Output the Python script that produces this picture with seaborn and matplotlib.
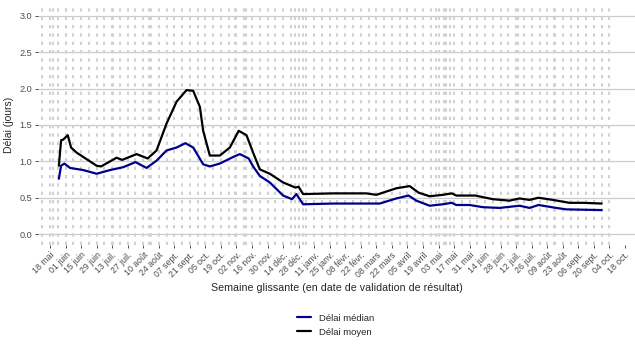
import pandas as pd
import numpy as np
import matplotlib
matplotlib.use("Agg")
import matplotlib.pyplot as plt
import seaborn as sns

# Délai moyen (jours)
moyen_dates = [
    "2020-05-26", "2020-05-28", "2020-05-30", "2020-06-03", "2020-06-06", "2020-06-11",
    "2020-06-20", "2020-06-29", "2020-07-03", "2020-07-17", "2020-07-22", "2020-08-04",
    "2020-08-14", "2020-08-22", "2020-08-31", "2020-09-09", "2020-09-18", "2020-09-24",
    "2020-09-30", "2020-10-03", "2020-10-09", "2020-10-18", "2020-10-27", "2020-11-04",
    "2020-11-11", "2020-11-17", "2020-11-23", "2020-12-02", "2020-12-14", "2020-12-25",
    "2020-12-28", "2021-01-01", "2021-01-28", "2021-02-27", "2021-03-08", "2021-03-26",
    "2021-04-07", "2021-04-15", "2021-04-25", "2021-05-07", "2021-05-15", "2021-05-19",
    "2021-06-05", "2021-06-21", "2021-07-06", "2021-07-15", "2021-07-24", "2021-08-01",
    "2021-08-14", "2021-08-29", "2021-09-10", "2021-09-27",
]
moyen_vals = [
    0.94, 1.29, 1.30, 1.36, 1.19, 1.12,
    1.03, 0.94, 0.93, 1.05, 1.02, 1.10,
    1.04, 1.15, 1.52, 1.82, 1.98, 1.97,
    1.75, 1.42, 1.08, 1.08, 1.19, 1.42,
    1.36, 1.12, 0.89, 0.83, 0.71, 0.64,
    0.65, 0.55, 0.56, 0.56, 0.54, 0.63,
    0.66, 0.57, 0.52, 0.54, 0.56, 0.53,
    0.53, 0.48, 0.46, 0.49, 0.47, 0.50,
    0.47, 0.43, 0.43, 0.42,
]

# Délai médian (jours)
median_dates = [
    "2020-05-26", "2020-05-28", "2020-05-31", "2020-06-05", "2020-06-17", "2020-06-29",
    "2020-07-11", "2020-07-23", "2020-08-03", "2020-08-13", "2020-08-22", "2020-08-31",
    "2020-09-09", "2020-09-17", "2020-09-24", "2020-10-03", "2020-10-09", "2020-10-18",
    "2020-10-30", "2020-11-05", "2020-11-13", "2020-11-17", "2020-11-23", "2020-12-02",
    "2020-12-14", "2020-12-22", "2020-12-26", "2021-01-01", "2021-01-28", "2021-02-27",
    "2021-03-11", "2021-03-26", "2021-04-06", "2021-04-13", "2021-04-25", "2021-05-07",
    "2021-05-15", "2021-05-19", "2021-05-31", "2021-06-12", "2021-06-27", "2021-07-15",
    "2021-07-24", "2021-08-01", "2021-08-17", "2021-08-26", "2021-09-27",
]
median_vals = [
    0.76, 0.94, 0.97, 0.91, 0.88, 0.83,
    0.88, 0.92, 0.99, 0.91, 1.01, 1.15,
    1.19, 1.25, 1.19, 0.96, 0.93, 0.97,
    1.06, 1.10, 1.04, 0.93, 0.80, 0.71,
    0.53, 0.48, 0.55, 0.41, 0.42, 0.42,
    0.42, 0.49, 0.53, 0.46, 0.39, 0.41,
    0.43, 0.40, 0.40, 0.37, 0.36, 0.39,
    0.36, 0.40, 0.36, 0.34, 0.33,
]

tick_labels = [
    "18 mai", "01 juin", "15 juin", "29 juin", "13 juil.", "27 juil.", "10 août",
    "24 août", "07 sept.", "21 sept.", "05 oct.", "19 oct.", "02 nov.", "16 nov.",
    "30 nov.", "14 déc.", "28 déc.", "11 janv.", "25 janv.", "08 févr.", "22 févr.",
    "08 mars", "22 mars", "05 avril", "19 avril", "03 mai", "17 mai", "31 mai",
    "14 juin", "28 juin", "12 juil.", "26 juil.", "09 août", "23 août", "06 sept.",
    "20 sept.", "04 oct.", "18 oct.",
]

# jours fériés (lignes verticales en plus des lundis)
feries = [
    "2020-05-21", "2020-06-01", "2020-07-14", "2020-08-15", "2020-11-01", "2020-11-11",
    "2020-12-25", "2021-01-01", "2021-04-05", "2021-05-01", "2021-05-08", "2021-05-13",
    "2021-05-24", "2021-07-14", "2021-08-15",
]

df = pd.concat([
    pd.DataFrame({"date": pd.to_datetime(median_dates), "delai": median_vals, "serie": "Délai médian"}),
    pd.DataFrame({"date": pd.to_datetime(moyen_dates), "delai": moyen_vals, "serie": "Délai moyen"}),
], ignore_index=True)

sns.set_theme(style="white")
plt.rcParams["font.family"] = ["Liberation Sans", "DejaVu Sans"]

fig = plt.figure(figsize=(6.35, 3.53), dpi=100)
ax = fig.add_axes([38 / 635, 1 - 245 / 353, 1 - 38 / 635, 240 / 353])

grid_col = "#cccccc"
for v in np.arange(0, 3.01, 0.5):
    ax.axhline(v, color=grid_col, lw=0.9, zorder=0)

lundis = pd.date_range("2020-05-11", "2021-10-04", freq="7D")
for d in list(lundis) + list(pd.to_datetime(feries)):
    ax.axvline(d, color="#d2d2d2", lw=1.5, dashes=(1.6, 2.4), zorder=0)

sns.lineplot(data=df, x="date", y="delai", hue="serie",
             palette={"Délai médian": "#00008b", "Délai moyen": "black"},
             linewidth=1.6, ax=ax, zorder=3)

start = pd.Timestamp("2020-05-18")
ax.set_xlim(start - pd.Timedelta(days=10.8), start + pd.Timedelta(days=527))
ax.set_ylim(-0.15, 3.15)

ticks = pd.date_range("2020-05-18", periods=len(tick_labels), freq="14D")
ax.set_xticks(ticks)
ax.set_xticklabels(tick_labels, rotation=45, ha="right", rotation_mode="anchor",
                   fontsize=6.3, color="#4d4d4d")
ax.set_yticks(np.arange(0, 3.01, 0.5))
ax.set_yticklabels([f"{v:.1f}" for v in np.arange(0, 3.01, 0.5)], fontsize=6.6, color="#4d4d4d")
ax.tick_params(axis="both", length=2.5, width=0.6, color="#333333", pad=1.5, bottom=True, left=True)

for s in ax.spines.values():
    s.set_visible(False)

ax.set_xlabel("Semaine glissante (en date de validation de résultat)", fontsize=7.7, labelpad=3)
ax.set_ylabel("Délai (jours)", fontsize=7.5, labelpad=4)

handles, labels = ax.get_legend_handles_labels()
ax.get_legend().remove()
fig.legend(handles, labels, loc="center", bbox_to_anchor=(0.528, 0.079), ncol=1,
           frameon=False, fontsize=6.8, handlelength=1.5, labelspacing=0.55, handletextpad=0.8)

fig.savefig("out.png", dpi=100)
